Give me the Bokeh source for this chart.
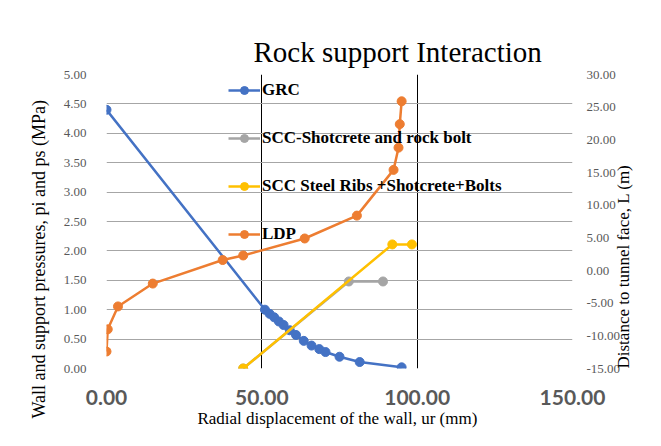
import math
from bokeh.plotting import figure
from bokeh.models import (Range1d, LinearAxis, FixedTicker, PrintfTickFormatter,
                          Title, Legend, LegendItem)
from bokeh.embed import file_html
from bokeh.resources import INLINE

# ---- data ----
grc_u = [0.0, 51.0, 52.5, 54.0, 55.5, 57.0, 59.0, 61.0, 63.5, 66.0, 68.5, 70.5, 75.0, 81.5, 95.0]
grc_p = [4.40, 1.00, 0.93, 0.87, 0.80, 0.74, 0.65, 0.57, 0.47, 0.39, 0.33, 0.28, 0.20, 0.11, 0.02]

scc_sb_u = [44.0, 78.0, 89.0]
scc_sb_p = [0.0, 1.48, 1.48]

scc_rib_u = [44.0, 92.0, 98.3]
scc_rib_p = [0.0, 2.11, 2.11]

ldp_u = [0.0, 0.4, 3.7, 14.9, 37.4, 44.0, 63.8, 80.6, 92.4, 94.0, 94.4, 95.0]
ldp_L = [-12.4, -9.0, -5.5, -2.0, 1.6, 2.3, 4.9, 8.4, 15.4, 18.8, 22.4, 25.9]

x_ticks = [0, 50, 100, 150]
p_ticks = [0, 0.5, 1.0, 1.5, 2.0, 2.5, 3.0, 3.5, 4.0, 4.5, 5.0]
L_ticks = [-15, -10, -5, 0, 5, 10, 15, 20, 25, 30]

title_text = "Rock support Interaction"
x_title = "Radial  displacement of the wall, ur (mm)"
y_title = "Wall and support pressures, pi and ps (MPa)"
y2_title = "Distance to tunnel face, L (m)"

BLUE = "#4472C4"
GRAY = "#A5A5A5"
YELLOW = "#FFC000"
ORANGE = "#ED7D31"
SERIF = "Liberation Serif"

W, H = 645, 430
p = figure(width=W, height=H, output_backend="svg", toolbar_location=None,
           x_range=Range1d(0, 150), y_range=Range1d(0, 5),
           min_border_left=106, min_border_right=71, min_border_top=74, min_border_bottom=58)
p.extra_y_ranges = {"L": Range1d(-15, 30)}
p.outline_line_color = None
p.background_fill_color = "white"
p.border_fill_color = "white"

# main title
p.title.text = title_text
p.title.align = "left"
p.title.offset = 147
p.title.text_font = SERIF
p.title.text_font_style = "normal"
p.title.text_font_size = "29px"
p.title.text_color = "black"
p.title.standoff = 13

# axes
for ax in (p.xaxis[0], p.yaxis[0]):
    ax.axis_line_color = None
    ax.major_tick_line_color = None
    ax.minor_tick_line_color = None

p.xaxis.ticker = FixedTicker(ticks=x_ticks)
p.xaxis.formatter = PrintfTickFormatter(format="%.2f")
p.xaxis.major_label_text_font = "Lato"
p.xaxis.major_label_text_font_style = "bold"
p.xaxis.major_label_text_font_size = "21px"
p.xaxis.major_label_text_color = "#595959"
p.xaxis.major_label_standoff = 15
p.xaxis.axis_label = x_title
p.xaxis.axis_label_text_font = SERIF
p.xaxis.axis_label_text_font_style = "normal"
p.xaxis.axis_label_text_font_size = "17px"
p.xaxis.axis_label_text_color = "black"
p.xaxis.axis_label_standoff = 1

p.yaxis.ticker = FixedTicker(ticks=p_ticks)
p.yaxis.formatter = PrintfTickFormatter(format="%.2f")
p.yaxis.major_label_text_font = SERIF
p.yaxis.major_label_text_font_size = "13px"
p.yaxis.major_label_text_color = "#595959"
p.yaxis.major_label_standoff = 14

ax2 = LinearAxis(y_range_name="L", ticker=FixedTicker(ticks=L_ticks),
                 formatter=PrintfTickFormatter(format="%.2f"))
ax2.axis_line_color = None
ax2.major_tick_line_color = None
ax2.minor_tick_line_color = None
ax2.major_label_text_font = SERIF
ax2.major_label_text_font_size = "13px"
ax2.major_label_text_color = "#595959"
ax2.major_label_standoff = 8
p.add_layout(ax2, "right")

# left axis title: offset along the frame as in the reference
t_left = Title(text=y_title, align="left", offset=-50, text_font=SERIF,
               text_font_style="normal", text_font_size="18px", text_color="black", standoff=23)
p.add_layout(t_left, "left")

# right axis title: reads bottom-to-top
axis_props = LinearAxis.properties()
if "axis_label_orientation" in axis_props:
    ax2.axis_label = y2_title
    ax2.axis_label_text_font = SERIF
    ax2.axis_label_text_font_style = "normal"
    ax2.axis_label_text_font_size = "17px"
    ax2.axis_label_text_color = "black"
    ax2.axis_label_standoff = 0
    ax2.axis_label_orientation = math.pi / 2
    if "axis_label_align" in axis_props:
        ax2.axis_label_align = "start"
else:
    t_right = Title(text=y2_title, align="center", text_font=SERIF,
                    text_font_style="normal", text_font_size="17px", text_color="black", standoff=0)
    p.add_layout(t_right, "right")

# grids
p.xgrid.ticker = FixedTicker(ticks=x_ticks)
p.xgrid.grid_line_color = "black"
p.xgrid.grid_line_width = 1
p.ygrid.ticker = FixedTicker(ticks=p_ticks)
p.ygrid.grid_line_color = "#a6a6a6"
p.ygrid.grid_line_width = 1

# series
lw = 2.5
ms = 9
r_grc_l = p.line(grc_u, grc_p, line_color=BLUE, line_width=lw)
r_grc_m = p.scatter(grc_u, grc_p, marker="circle", size=ms, fill_color=BLUE, line_color=BLUE)
r_sb_l = p.line(scc_sb_u, scc_sb_p, line_color=GRAY, line_width=lw)
r_sb_m = p.scatter(scc_sb_u, scc_sb_p, marker="circle", size=ms, fill_color=GRAY, line_color=GRAY)
r_rib_l = p.line(scc_rib_u, scc_rib_p, line_color=YELLOW, line_width=lw)
r_rib_m = p.scatter(scc_rib_u, scc_rib_p, marker="circle", size=ms, fill_color=YELLOW, line_color=YELLOW)
r_ldp_l = p.line(ldp_u, ldp_L, line_color=ORANGE, line_width=lw, y_range_name="L")
r_ldp_m = p.scatter(ldp_u, ldp_L, marker="circle", size=ms, fill_color=ORANGE, line_color=ORANGE,
                    y_range_name="L")

legend = Legend(items=[
    LegendItem(label="GRC", renderers=[r_grc_l, r_grc_m]),
    LegendItem(label="SCC-Shotcrete and rock bolt", renderers=[r_sb_l, r_sb_m]),
    LegendItem(label="SCC Steel Ribs +Shotcrete+Bolts", renderers=[r_rib_l, r_rib_m]),
    LegendItem(label="LDP", renderers=[r_ldp_l, r_ldp_m]),
], location=(122, 124))
legend.padding = 0
legend.margin = 0
legend.spacing = 28
legend.label_height = 20
legend.glyph_height = 20
legend.glyph_width = 32
legend.label_standoff = 2
legend.border_line_color = None
legend.background_fill_alpha = 0
legend.label_text_font = SERIF
legend.label_text_font_style = "bold"
legend.label_text_font_size = "17px"
legend.label_text_color = "black"
p.add_layout(legend, "center")

open("out.html", "w").write(file_html(p, INLINE))
